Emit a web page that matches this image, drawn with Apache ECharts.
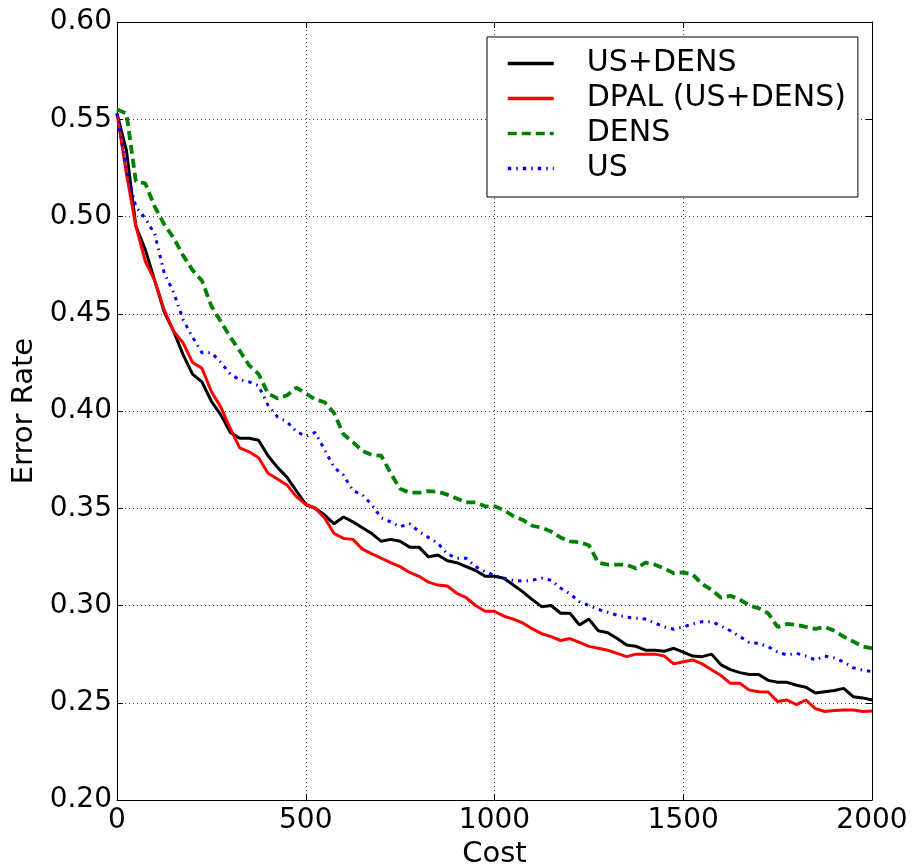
<!DOCTYPE html>
<html>
<head>
<meta charset="utf-8">
<script src="https://cdn.jsdelivr.net/npm/echarts@6/dist/echarts.min.js"></script>
<style>
html,body{margin:0;padding:0;background:#fff;}
#chart{width:917px;height:867px;}
</style>
</head>
<body>
<div id="chart"></div>
<script>
const costs = [0,25,50,75,100,125,150,175,200,225,250,275,300,325,350,375,400,425,450,475,
500,525,550,575,600,625,650,675,700,725,750,775,800,825,850,875,900,925,950,975,
1000,1025,1050,1075,1100,1125,1150,1175,1200,1225,1250,1275,1300,1325,1350,1375,1400,1425,1450,1475,
1500,1525,1550,1575,1600,1625,1650,1675,1700,1725,1750,1775,1800,1825,1850,1875,1900,1925,1950,1975,2000];

const usDens = [0.553,0.534,0.495,0.483,0.467,0.451,0.441,0.429,0.419,0.415,0.405,0.398,0.389,0.386,0.386,0.385,0.377,0.371,0.366,0.359,
0.352,0.350,0.3465,0.342,0.3455,0.343,0.340,0.337,0.333,0.334,0.333,0.330,0.330,0.325,0.326,0.323,0.322,0.320,0.318,0.315,
0.315,0.314,0.3105,0.307,0.303,0.2994,0.300,0.296,0.296,0.290,0.293,0.287,0.286,0.283,0.2797,0.279,0.277,0.277,0.2765,0.278,
0.276,0.274,0.2737,0.275,0.2695,0.267,0.2655,0.2645,0.2645,0.2615,0.2605,0.2605,0.259,0.258,0.255,0.2557,0.2563,0.2574,0.2531,0.2525,0.2514];

const dpal = [0.553,0.522,0.495,0.477,0.467,0.452,0.441,0.435,0.425,0.422,0.410,0.402,0.391,0.381,0.379,0.376,0.368,0.365,0.362,0.356,
0.352,0.350,0.345,0.337,0.3345,0.334,0.329,0.3265,0.3243,0.322,0.320,0.317,0.315,0.312,0.3105,0.310,0.3063,0.304,0.300,0.297,
0.297,0.2945,0.293,0.291,0.288,0.2855,0.284,0.282,0.283,0.281,0.279,0.278,0.277,0.2754,0.2737,0.275,0.275,0.275,0.274,0.270,
0.2711,0.272,0.270,0.267,0.264,0.260,0.260,0.2565,0.2557,0.2555,0.2506,0.2514,0.249,0.2514,0.247,0.2455,0.246,0.2463,0.2463,0.2455,0.2458];

const dens = [0.555,0.553,0.518,0.517,0.505,0.496,0.489,0.480,0.4725,0.467,0.454,0.446,0.438,0.431,0.4235,0.419,0.409,0.4065,0.408,0.412,
0.409,0.406,0.4045,0.399,0.388,0.384,0.3795,0.3774,0.377,0.368,0.360,0.358,0.358,0.3588,0.3585,0.357,0.355,0.353,0.353,0.351,
0.351,0.349,0.346,0.344,0.341,0.340,0.338,0.335,0.333,0.3325,0.331,0.322,0.321,0.321,0.321,0.319,0.322,0.321,0.319,0.3166,
0.317,0.316,0.311,0.308,0.304,0.305,0.303,0.300,0.2986,0.296,0.289,0.2905,0.290,0.289,0.288,0.289,0.287,0.284,0.2815,0.279,0.278];

const us = [0.553,0.524,0.505,0.499,0.491,0.471,0.461,0.447,0.438,0.430,0.430,0.425,0.419,0.416,0.415,0.413,0.403,0.397,0.3945,0.3895,
0.387,0.389,0.380,0.371,0.367,0.359,0.357,0.3517,0.345,0.343,0.3405,0.342,0.338,0.335,0.332,0.3265,0.3243,0.3243,0.320,0.3174,
0.3155,0.314,0.313,0.3125,0.313,0.314,0.313,0.309,0.306,0.302,0.300,0.298,0.2965,0.295,0.294,0.2935,0.293,0.291,0.289,0.2878,
0.289,0.2905,0.2917,0.2917,0.2895,0.287,0.284,0.281,0.2805,0.2788,0.276,0.2746,0.2754,0.274,0.272,0.274,0.273,0.271,0.268,0.2668,0.266];

const seriesNames = ['US+DENS','DPAL (US+DENS)','DENS','US'];
const xTicks = [0,500,1000,1500,2000];
const yTicks = [0.20,0.25,0.30,0.35,0.40,0.45,0.50,0.55,0.60];

const FONT = 'DejaVu Sans';
const pair = arr => costs.map((c,i)=>[c,arr[i]]);

const chart = echarts.init(document.getElementById('chart'), null, {renderer:'canvas'});

const gridLine = {show:true, lineStyle:{color:'#444', type:[1,3], width:1}};
const axisCommon = {
  axisLine:{show:true, onZero:false, lineStyle:{color:'#000', width:1}},
  axisTick:{show:true, inside:true, length:6, lineStyle:{color:'#000'}},
};

chart.setOption({
  animation:false,
  backgroundColor:'#fff',
  grid:{left:117, right:45, top:22, bottom:67, containLabel:false, outerBoundsMode:'none'},
  legend:{
    orient:'vertical', left:487, top:37,
    padding:[11,12,13,19],
    itemWidth:46, itemHeight:14, itemGap:4,
    borderColor:'#000', borderWidth:1, borderRadius:0, backgroundColor:'#fff',
    itemStyle:{opacity:0},
    lineStyle:{width:3.5},
    textStyle:{fontFamily:FONT, fontSize:30, color:'#000', lineHeight:31, padding:[0,0,0,28]},
    data:seriesNames
  },
  xAxis:[
    Object.assign({
      type:'value', min:xTicks[0], max:xTicks[xTicks.length-1], interval:500, position:'bottom',
      name:'Cost', nameLocation:'middle', nameGap:36,
      nameTextStyle:{fontFamily:FONT, fontSize:29, color:'#000'},
      axisLabel:{fontFamily:FONT, fontSize:28, color:'#000', margin:7, formatter:v=>String(v)},
      splitLine:gridLine
    }, axisCommon),
    Object.assign({
      type:'value', min:xTicks[0], max:xTicks[xTicks.length-1], interval:500, position:'top',
      axisLabel:{show:false}, splitLine:{show:false}
    }, axisCommon)
  ],
  yAxis:[
    Object.assign({
      type:'value', min:yTicks[0], max:yTicks[yTicks.length-1], interval:0.05, position:'left',
      name:'Error Rate', nameLocation:'middle', nameGap:65,
      nameTextStyle:{fontFamily:FONT, fontSize:29, color:'#000'},
      axisLabel:{fontFamily:FONT, fontSize:28, color:'#000', margin:5, formatter:v=>v.toFixed(2)},
      splitLine:gridLine
    }, axisCommon),
    Object.assign({
      type:'value', min:yTicks[0], max:yTicks[yTicks.length-1], interval:0.05, position:'right',
      axisLabel:{show:false}, splitLine:{show:false}
    }, axisCommon)
  ],
  series:[
    {name:seriesNames[0], type:'line', data:pair(usDens), symbol:'none', color:'#000',
      lineStyle:{color:'#000', width:3}},
    {name:seriesNames[1], type:'line', data:pair(dpal), symbol:'none', color:'#ff0000',
      lineStyle:{color:'#ff0000', width:3}},
    {name:seriesNames[2], type:'line', data:pair(dens), symbol:'none', color:'#008000',
      lineStyle:{color:'#008000', width:3.8, type:[9,5], cap:'butt'}},
    {name:seriesNames[3], type:'line', data:pair(us), symbol:'none', color:'#0000ff',
      lineStyle:{color:'#0000ff', width:3, type:[3.5,5,1.5,5], cap:'butt'}}
  ]
});
</script>
</body>
</html>
